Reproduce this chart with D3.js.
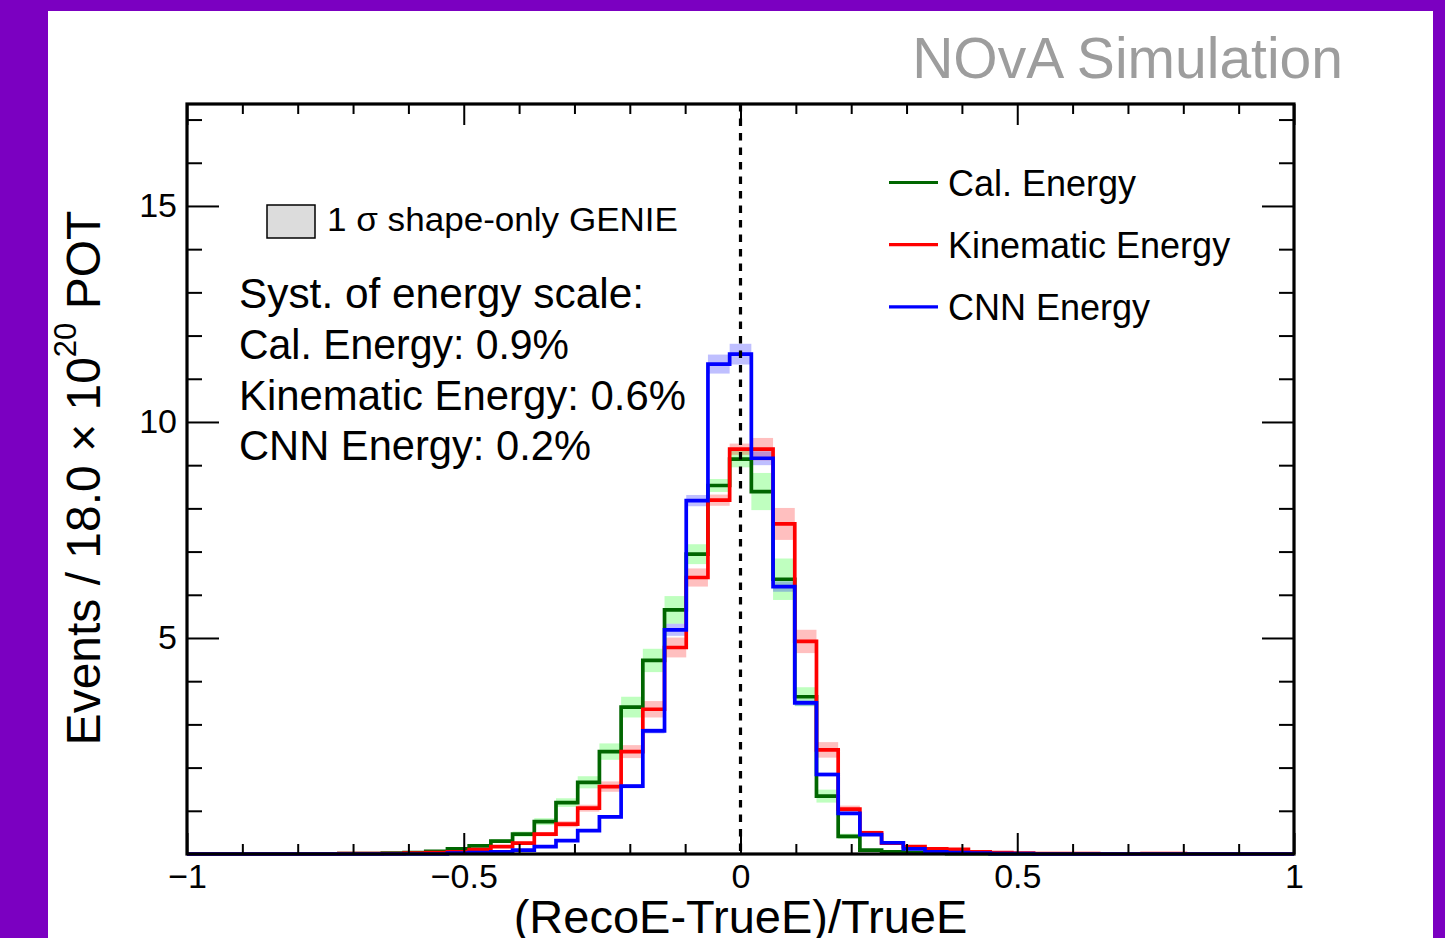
<!DOCTYPE html>
<html>
<head>
<meta charset="utf-8">
<script src="https://cdn.jsdelivr.net/npm/d3@7"></script>
<style>
body { margin: 0; background: #7b00c1; }
svg { display: block; }
text { font-family: "Liberation Sans", Arial, Helvetica, sans-serif; fill: #000; }
</style>
</head>
<body>
<svg id="chart" width="1445" height="938"></svg>
<script>
// 51 bins on (RecoE-TrueE)/TrueE in [-1, 1]
var nBins = 51;
var xDomain = [-1, 1];

var calEnergy = [
  0, 0, 0, 0, 0, 0, 0, 0.01, 0.01, 0.02,
  0.03, 0.06, 0.12, 0.19, 0.30, 0.46, 0.75, 1.19, 1.66, 2.37,
  3.40, 4.48, 5.65, 6.94, 8.53, 9.14, 8.39, 6.36, 3.64, 1.34,
  0.41, 0.09, 0.05, 0.03, 0.02, 0.01, 0.01, 0, 0, 0,
  0, 0, 0, 0, 0, 0, 0, 0, 0, 0,
  0
];
var calErr = [
  0, 0, 0, 0, 0, 0, 0, 0, 0, 0.01,
  0.01, 0.02, 0.02, 0.03, 0.04, 0.06, 0.08, 0.10, 0.14, 0.19,
  0.24, 0.27, 0.32, 0.23, 0.15, 0.19, 0.43, 0.48, 0.22, 0.15,
  0.06, 0.02, 0.01, 0, 0, 0, 0, 0, 0, 0,
  0, 0, 0, 0, 0, 0, 0, 0, 0, 0,
  0
];

var kinEnergy = [
  0, 0, 0, 0, 0, 0, 0, 0.01, 0.01, 0.01,
  0.02, 0.03, 0.05, 0.10, 0.17, 0.25, 0.46, 0.69, 1.06, 1.56,
  2.37, 3.35, 4.78, 6.40, 8.19, 9.37, 9.37, 7.64, 4.92, 2.41,
  1.04, 0.49, 0.25, 0.17, 0.12, 0.11, 0.05, 0.03, 0.02, 0.01,
  0.01, 0.01, 0, 0, 0.01, 0.01, 0, 0, 0, 0,
  0
];
var kinErr = [
  0, 0, 0, 0, 0, 0, 0, 0, 0, 0,
  0, 0.01, 0.01, 0.02, 0.03, 0.04, 0.05, 0.07, 0.08, 0.12,
  0.15, 0.19, 0.23, 0.21, 0.13, 0.13, 0.26, 0.37, 0.27, 0.18,
  0.08, 0.05, 0.03, 0.03, 0.02, 0.02, 0.04, 0.01, 0, 0,
  0, 0, 0, 0, 0, 0, 0, 0, 0, 0,
  0
];

var cnnEnergy = [
  0, 0, 0, 0, 0, 0, 0, 0, 0, 0,
  0, 0, 0.02, 0.03, 0.05, 0.09, 0.17, 0.31, 0.54, 0.86,
  1.57, 2.85, 5.19, 8.18, 11.34, 11.57, 9.16, 6.19, 3.50, 1.84,
  0.94, 0.45, 0.26, 0.12, 0.05, 0.03, 0.02, 0.01, 0.01, 0,
  0, 0, 0, 0, 0, 0, 0, 0, 0, 0,
  0
];
var cnnErr = [
  0, 0, 0, 0, 0, 0, 0, 0, 0, 0,
  0, 0, 0, 0, 0.01, 0.01, 0.02, 0.02, 0.03, 0.04,
  0.05, 0.06, 0.14, 0.13, 0.22, 0.24, 0.16, 0.12, 0.07, 0.05,
  0.04, 0.03, 0.02, 0.01, 0, 0, 0, 0, 0, 0,
  0, 0, 0, 0, 0, 0, 0, 0, 0, 0,
  0
];

var seriesNames = ["Cal. Energy", "Kinematic Energy", "CNN Energy"];
var systLines = ["Syst. of energy scale:", "Cal. Energy: 0.9%", "Kinematic Energy: 0.6%", "CNN Energy: 0.2%"];
var xMajorTicks = [-1, -0.5, 0, 0.5, 1];
var yMajorTicks = [5, 10, 15];

var series = [
  { name: seriesNames[0], values: calEnergy, err: calErr, line: "#006600", band: "#00ff00" },
  { name: seriesNames[1], values: kinEnergy, err: kinErr, line: "#ff0000", band: "#ff0000" },
  { name: seriesNames[2], values: cnnEnergy, err: cnnErr, line: "#0000ff", band: "#0000ff" }
];

var svg = d3.select("#chart");
var font = '"Liberation Sans", Arial, Helvetica, sans-serif';

// white pad
svg.append("rect").attr("x", 48).attr("y", 11).attr("width", 1385).attr("height", 927).attr("fill", "#fff");

// note: "top" is a reserved window global, so use frame* names
var frameL = 187, frameR = 1294, frameT = 104, frameB = 854;
var x = d3.scaleLinear().domain(xDomain).range([frameL, frameR]);
var y = d3.scaleLinear().domain([0, 17.36]).range([frameB, frameT]);

var binW = (xDomain[1] - xDomain[0]) / nBins;
var edges = d3.range(nBins + 1).map(function (i) { return xDomain[0] + i * binW; });

// systematic bands
series.forEach(function (s) {
  svg.append("g")
    .selectAll("rect")
    .data(s.values.map(function (v, i) { return { i: i, v: v, e: s.err[i] }; }).filter(function (d) { return d.e > 0; }))
    .join("rect")
    .attr("x", function (d) { return x(edges[d.i]); })
    .attr("width", function (d) { return x(edges[d.i + 1]) - x(edges[d.i]); })
    .attr("y", function (d) { return y(d.v + d.e); })
    .attr("height", function (d) { return y(d.v - d.e) - y(d.v + d.e); })
    .attr("fill", s.band)
    .attr("fill-opacity", 0.25);
});

// histogram outlines
var step = d3.line()
  .x(function (d) { return x(d[0]); })
  .y(function (d) { return y(d[1]); })
  .curve(d3.curveStepAfter);

series.forEach(function (s) {
  var pts = s.values.map(function (v, i) { return [edges[i], v]; });
  pts.push([edges[nBins], s.values[nBins - 1]]);
  svg.append("path")
    .attr("d", step(pts))
    .attr("fill", "none")
    .attr("stroke", s.line)
    .attr("stroke-width", 3.7);
});

// dashed line at zero
svg.append("line")
  .attr("x1", x(0)).attr("x2", x(0))
  .attr("y1", frameT).attr("y2", frameB)
  .attr("stroke", "#000").attr("stroke-width", 3.2)
  .attr("stroke-dasharray", "7.5,7");

// axes (ticks inward)
var xMinor = d3.range(-10, 11).map(function (k) { return k / 10; }).filter(function (v) { return Math.abs(v * 2 - Math.round(v * 2)) > 1e-6; });
var yMinor = d3.range(1, 18).filter(function (v) { return v % 5 !== 0; });

function styleAxis(g, labels) {
  g.select(".domain").remove();
  g.selectAll(".tick line").attr("stroke", "#000").attr("stroke-width", 2);
  if (labels) {
    g.selectAll(".tick text").attr("font-family", font).attr("font-size", 34).attr("fill", "#000");
  } else {
    g.selectAll(".tick text").remove();
  }
}

svg.append("g").attr("transform", "translate(0," + frameB + ")")
  .call(d3.axisBottom(x).tickValues(xMajorTicks).tickSize(-21).tickPadding(10)
    .tickFormat(function (d) { return d < 0 ? "\u2212" + Math.abs(d) : d; }))
  .call(styleAxis, true);
svg.append("g").attr("transform", "translate(0," + frameB + ")")
  .call(d3.axisBottom(x).tickValues(xMinor).tickSize(-10).tickFormat(""))
  .call(styleAxis, false);
svg.append("g").attr("transform", "translate(0," + frameT + ")")
  .call(d3.axisTop(x).tickValues(xMajorTicks).tickSize(-21).tickFormat(""))
  .call(styleAxis, false);
svg.append("g").attr("transform", "translate(0," + frameT + ")")
  .call(d3.axisTop(x).tickValues(xMinor).tickSize(-10).tickFormat(""))
  .call(styleAxis, false);

svg.append("g").attr("transform", "translate(" + frameL + ",0)")
  .call(d3.axisLeft(y).tickValues(yMajorTicks).tickSize(-32).tickPadding(10))
  .call(styleAxis, true);
svg.append("g").attr("transform", "translate(" + frameL + ",0)")
  .call(d3.axisLeft(y).tickValues(yMinor).tickSize(-15).tickFormat(""))
  .call(styleAxis, false);
svg.append("g").attr("transform", "translate(" + frameR + ",0)")
  .call(d3.axisRight(y).tickValues(yMajorTicks).tickSize(-32).tickFormat(""))
  .call(styleAxis, false);
svg.append("g").attr("transform", "translate(" + frameR + ",0)")
  .call(d3.axisRight(y).tickValues(yMinor).tickSize(-15).tickFormat(""))
  .call(styleAxis, false);

// frame
svg.append("rect")
  .attr("x", frameL).attr("y", frameT)
  .attr("width", frameR - frameL).attr("height", frameB - frameT)
  .attr("fill", "none").attr("stroke", "#000").attr("stroke-width", 3.2);

// axis titles
svg.append("text")
  .attr("x", (frameL + frameR) / 2).attr("y", 933)
  .attr("text-anchor", "middle")
  .attr("font-size", 47)
  .text("(RecoE-TrueE)/TrueE");

var yt = svg.append("text")
  .attr("transform", "translate(100,478) rotate(-90)")
  .attr("text-anchor", "middle")
  .attr("font-size", 48);
yt.append("tspan").text("Events / 18.0 \u00d7 10");
yt.append("tspan").attr("font-size", 31).attr("dy", -24).text("20");
yt.append("tspan").attr("dy", 24).text(" POT");

// header
svg.append("text")
  .attr("x", 1343).attr("y", 78)
  .attr("text-anchor", "end")
  .attr("font-size", 57)
  .style("fill", "#9d9d9d")
  .text("NOvA Simulation");

// band legend
svg.append("rect")
  .attr("x", 267).attr("y", 205).attr("width", 48).attr("height", 33)
  .attr("fill", "#dcdcdc").attr("stroke", "#000").attr("stroke-width", 1.5);
svg.append("text")
  .attr("x", 327).attr("y", 231)
  .attr("font-size", 34)
  .attr("textLength", 351)
  .attr("lengthAdjust", "spacingAndGlyphs")
  .text("1 \u03c3 shape-only GENIE");

// systematics text
var systWidths = [405, 330, 447, 352];
svg.append("g").selectAll("text")
  .data(systLines)
  .join("text")
  .attr("x", 239)
  .attr("y", function (d, i) { return 308 + i * 50.8; })
  .attr("font-size", 43)
  .attr("textLength", function (d, i) { return systWidths[i]; })
  .attr("lengthAdjust", "spacingAndGlyphs")
  .text(function (d) { return d; });

// series legend
var leg = svg.append("g").selectAll("g")
  .data(series)
  .join("g")
  .attr("transform", function (d, i) { return "translate(0," + (182.5 + i * 62.2) + ")"; });
leg.append("line")
  .attr("x1", 889).attr("x2", 938)
  .attr("stroke", function (d) { return d.line; })
  .attr("stroke-width", 3.2);
leg.append("text")
  .attr("x", 948).attr("y", 13)
  .attr("font-size", 36)
  .text(function (d) { return d.name; });
</script>
</body>
</html>
